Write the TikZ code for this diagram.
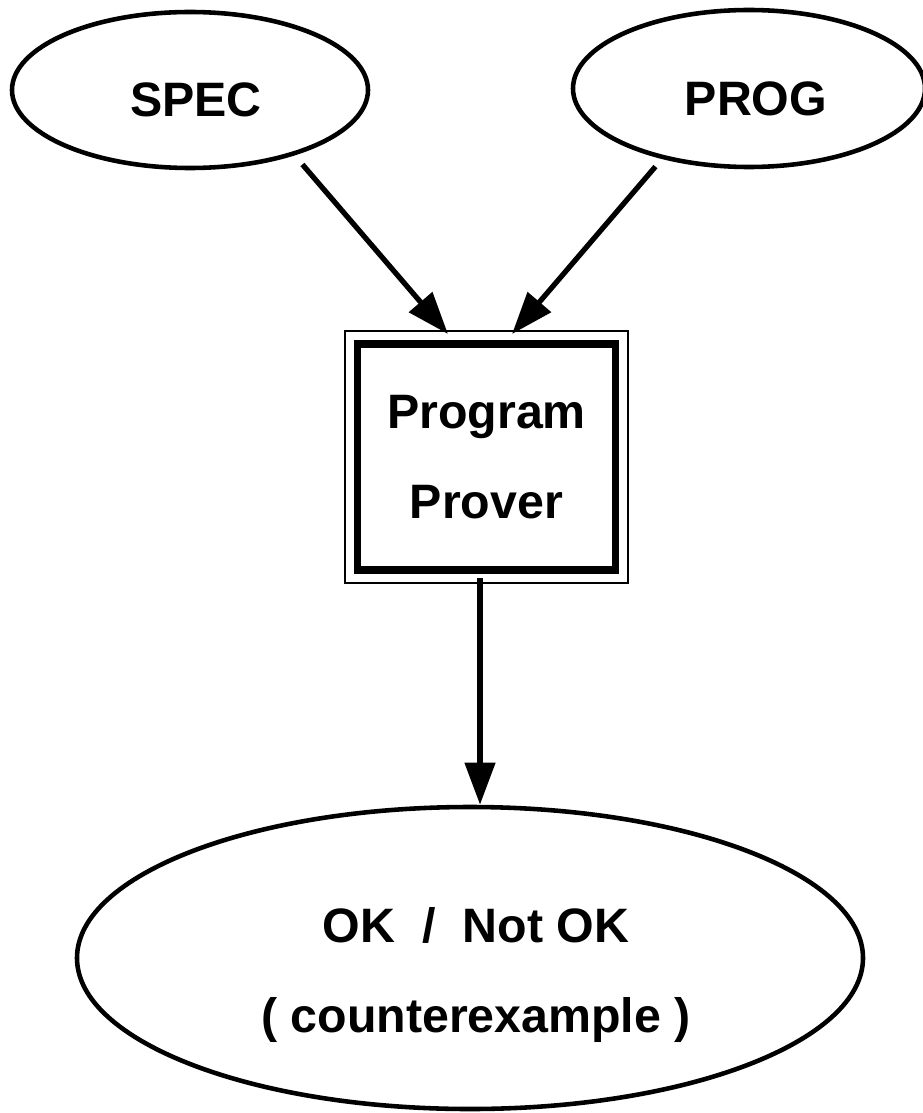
\documentclass[tikz,border=0pt]{standalone}
\usepackage{fontspec}
\setmainfont{Liberation Sans}
\usepackage{tikz}
\usetikzlibrary{shapes, arrows.meta, positioning}

\begin{document}
\begin{tikzpicture}[
		every node/.style={font=\bfseries\fontsize{27.5}{51}\selectfont, align=center},
		blob/.style={ellipse, draw, line width=2.6pt, inner sep=0pt, text height=30.5pt, text depth=0pt},
		flow/.style={line width=3pt, -{Triangle[length=24pt, width=17pt]}}
	]
			\useasboundingbox (0, 0) rectangle (18.44, -22.26);
			
			\node[blob, minimum width=7.12cm, minimum height=3.12cm] (spec) at (3.8, -1.8) {\hspace*{0.24cm}SPEC};
			\node[blob, minimum width=7.04cm, minimum height=3.14cm] (prog) at (14.98, -1.77) {\hspace*{0.28cm}PROG};
			\node[draw, line width=4.5pt, minimum width=5.16cm, minimum height=4.52cm] (prover) at (9.73, -9.14) {Program\\Prover};
			\draw[line width=1.1pt] ([shift={(-0.18, -0.18)}]prover.south west) rectangle ([shift={(0.18, 0.18)}]prover.north east);
			\node[ellipse, draw, line width=2.6pt, minimum width=15.72cm, minimum height=6.04cm] (result) at (9.4, -19.16) {};
			\node (verdict) at (9.52, -19.5) {OK\ \ /\ \ Not OK\\( counterexample )};
			
			\draw[flow, shorten <=0.24cm] (spec.-32) -- ([shift={(-0.77, 0.12)}]prover.north);
			\draw[flow, shorten <=0.2cm] (prog.-141.6) -- ([shift={(0.51, 0.12)}]prover.north);
			\draw[flow] ([shift={(-0.13, -0.08)}]prover.south) -- ([xshift=0.2cm]result.north);
		\end{tikzpicture}
\end{document}
